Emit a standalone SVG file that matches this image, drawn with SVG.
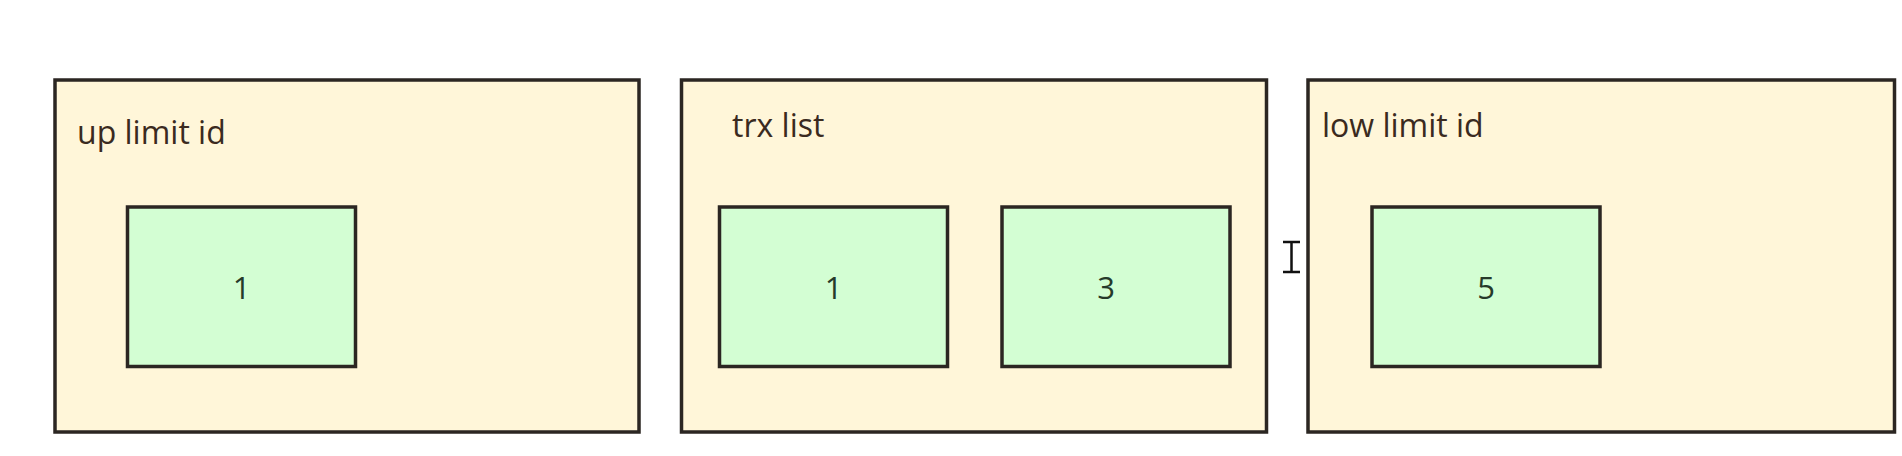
<svg xmlns="http://www.w3.org/2000/svg" width="1902" height="456" viewBox="0 0 1902 456">
  <style>
    .outer { fill: #FFF6D9; stroke: #2B2622; stroke-width: 3.5; }
    .inner { fill: #D3FED3; stroke: #2B2622; stroke-width: 3.5; }
    .label { font-family: "Open Sans", "Liberation Sans", sans-serif; font-size: 32px; fill: #3A2A20; }
    .num { font-family: "Open Sans", "Liberation Sans", sans-serif; font-size: 31px; fill: #263A2A; text-anchor: middle; }
  </style>
  <rect x="0" y="0" width="1902" height="456" fill="#FFFFFF"/>
  <g id="up-limit-id">
    <rect class="outer" x="55" y="80" width="584" height="352"/>
    <text class="label" x="77" y="144">up limit id</text>
    <g id="up-limit-id-1">
      <rect class="inner" x="127.5" y="207" width="228" height="159.5"/>
      <text class="num" x="241.5" y="299">1</text>
    </g>
  </g>
  <g id="trx-list">
    <rect class="outer" x="681.5" y="80" width="585" height="352"/>
    <text class="label" x="732" y="137">trx list</text>
    <g id="trx-list-1">
      <rect class="inner" x="719.5" y="207" width="228" height="159.5"/>
      <text class="num" x="833.5" y="299">1</text>
    </g>
    <g id="trx-list-3">
      <rect class="inner" x="1002" y="207" width="228" height="159.5"/>
      <text class="num" x="1106" y="299">3</text>
    </g>
  </g>
  <g id="low-limit-id">
    <rect class="outer" x="1308" y="80" width="586.5" height="352"/>
    <text class="label" x="1322" y="137">low limit id</text>
    <g id="low-limit-id-5">
      <rect class="inner" x="1372" y="207" width="228" height="159.5"/>
      <text class="num" x="1486" y="299">5</text>
    </g>
  </g>
  <g id="connectors"></g>
  <g id="cursor" fill="none" stroke="#111111" stroke-width="2.5">
    <path d="M1283 242 H1300 M1291.5 242 V272 M1283 272 H1300"/>
  </g>
</svg>
